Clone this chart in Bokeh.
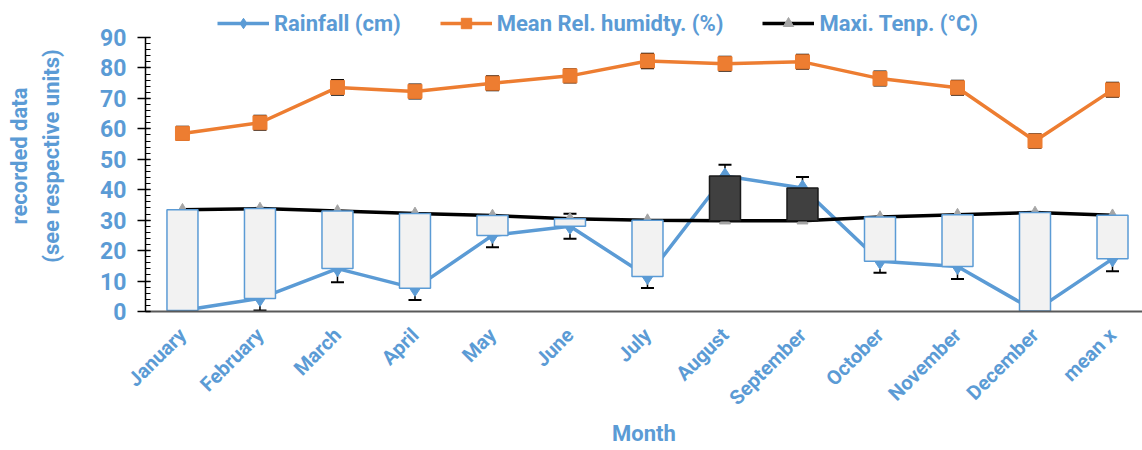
from math import pi
from bokeh.plotting import figure
from bokeh.models import (ColumnDataSource, Range1d, FixedTicker, LinearAxis, Legend,
                          LegendItem, Whisker, TeeHead)
from bokeh.embed import file_html
from bokeh.resources import INLINE

months = ["January", "February", "March", "April", "May", "June", "July", "August",
          "September", "October", "November", "December", "mean x"]
rainfall = [0.3, 4.3, 14.1, 7.6, 25.0, 28.0, 11.5, 44.5, 40.6, 16.5, 14.8, 0.2, 17.3]
rainfall_err = [4.0, 4.0, 4.5, 3.8, 3.9, 4.1, 3.8, 3.7, 3.6, 3.8, 4.1, 4.0, 4.1]
humidity = [58.5, 62.0, 73.6, 72.3, 75.0, 77.4, 82.3, 81.4, 82.0, 76.5, 73.5, 56.0, 72.8]
humidity_err = [2.2, 2.3, 2.4, 2.3, 2.3, 2.2, 2.4, 2.3, 2.3, 2.3, 2.3, 2.2, 2.3]
max_temp = [33.4, 33.8, 33.0, 32.2, 31.5, 30.5, 30.0, 29.8, 29.8, 31.0, 31.8, 32.5, 31.6]
series_names = ["Rainfall (cm)", "Mean Rel. humidty. (%)", "Maxi. Tenp. (°C)"]
y_ticks = list(range(0, 91, 10))

BLUE = "#5b9bd5"
ORANGE = "#ed7d31"
GREY = "#a5a5a5"
FONT = "Roboto"

xs = list(range(len(months)))

src = ColumnDataSource(dict(
    x=xs, rain=rainfall, hum=humidity, temp=max_temp,
    rain_lo=[r - e for r, e in zip(rainfall, rainfall_err)],
    rain_hi=[r + e for r, e in zip(rainfall, rainfall_err)],
    hum_lo=[h - e for h, e in zip(humidity, humidity_err)],
    hum_hi=[h + e for h, e in zip(humidity, humidity_err)],
    bar_lo=[min(r, t) for r, t in zip(rainfall, max_temp)],
    bar_hi=[max(r, t) for r, t in zip(rainfall, max_temp)],
    bar_fill=["#404040" if r > t else "#f2f2f2" for r, t in zip(rainfall, max_temp)],
    bar_line=["#1a1a1a" if r > t else BLUE for r, t in zip(rainfall, max_temp)],
))

# frame spans the full top of the canvas; the axis itself stops at 90,
# the strip above it holds the legend
FRAME_H = 311
AXIS_H = 274
y_top = y_ticks[-1] * FRAME_H / AXIS_H

p = figure(width=1142, height=450, output_backend="svg", toolbar_location=None,
           x_range=Range1d(-0.477, 12.387), y_range=Range1d(0, y_top),
           min_border_left=145, min_border_right=0, min_border_top=0, min_border_bottom=139)
p.outline_line_color = None
p.xgrid.visible = False
p.ygrid.visible = False

for lo, hi in (("rain_lo", "rain_hi"), ("hum_lo", "hum_hi")):
    w = Whisker(base="x", lower=lo, upper=hi, source=src, level="underlay",
                line_color="black", line_width=1.5,
                lower_head=TeeHead(size=13, line_color="black", line_width=2),
                upper_head=TeeHead(size=13, line_color="black", line_width=2))
    p.add_layout(w)

r_line = p.line("x", "rain", source=src, line_color=BLUE, line_width=3.5)
r_mark = p.scatter("x", "rain", source=src, marker="diamond", size=16,
                   fill_color=BLUE, line_color=BLUE)
t_line = p.line("x", "temp", source=src, line_color="black", line_width=3.5)
t_mark = p.scatter("x", "temp", source=src, marker="triangle", size=11,
                   fill_color=GREY, line_color=GREY)
p.vbar(x="x", bottom="bar_lo", top="bar_hi", width=0.4, source=src,
       fill_color="bar_fill", line_color="bar_line", line_width=1.5)
h_line = p.line("x", "hum", source=src, line_color=ORANGE, line_width=3.5)
h_mark = p.scatter("x", "hum", source=src, marker="square", size=14,
                   fill_color=ORANGE, line_color=ORANGE)

# x axis
xa = p.xaxis[0]
xa.ticker = FixedTicker(ticks=xs)
xa.major_label_overrides = {i: m for i, m in enumerate(months)}
xa.major_label_orientation = pi / 4
xa.major_tick_out = 0
xa.major_tick_in = 0
xa.minor_tick_out = 0
xa.minor_tick_in = 0
xa.axis_line_color = "#595959"
xa.axis_line_width = 2
xa.major_label_text_font = FONT
xa.major_label_text_font_style = "bold"
xa.major_label_text_font_size = "20px"
xa.major_label_text_color = BLUE
xa.major_label_standoff = 20
xa.axis_label = "Month"
xa.axis_label_text_font = FONT
xa.axis_label_text_font_style = "bold"
xa.axis_label_text_font_size = "22px"
xa.axis_label_text_color = BLUE
xa.axis_label_standoff = 0

# y axis (limited to 0..90)
ya = p.yaxis[0]
ya.bounds = (y_ticks[0], y_ticks[-1])
ya.ticker = FixedTicker(ticks=y_ticks, minor_ticks=list(range(0, 91, 2)))
ya.major_tick_out = 8
ya.major_tick_in = 5
ya.minor_tick_out = 0
ya.minor_tick_in = 5
ya.axis_line_color = "black"
ya.axis_line_width = 1.5
ya.major_tick_line_color = "black"
ya.major_tick_line_width = 1.5
ya.minor_tick_line_color = "black"
ya.major_label_text_font = FONT
ya.major_label_text_font_style = "bold"
ya.major_label_text_font_size = "23px"
ya.major_label_text_color = BLUE
ya.major_label_standoff = 11
ya.axis_label = "(see respective units)"
ya.axis_label_text_font = FONT
ya.axis_label_text_font_style = "bold"
ya.axis_label_text_font_size = "22px"
ya.axis_label_text_color = BLUE
ya.axis_label_standoff = 33

ya2 = LinearAxis(axis_label="recorded data", ticker=FixedTicker(ticks=[]),
                 bounds=(y_ticks[0], y_ticks[-1]))
ya2.axis_line_color = None
ya2.major_tick_out = 0
ya2.major_tick_in = 0
ya2.minor_tick_out = 0
ya2.minor_tick_in = 0
ya2.major_label_text_font_size = "0px"
ya2.major_label_standoff = 0
ya2.axis_label_text_font = FONT
ya2.axis_label_text_font_style = "bold"
ya2.axis_label_text_font_size = "22px"
ya2.axis_label_text_color = BLUE
ya2.axis_label_standoff = 5
p.add_layout(ya2, "left")

# legend in the strip above the axis top
legend = Legend(items=[
    LegendItem(label=series_names[0], renderers=[r_line, r_mark]),
    LegendItem(label=series_names[1], renderers=[h_line, h_mark]),
    LegendItem(label=series_names[2], renderers=[t_line, t_mark]),
], orientation="horizontal", location=(72, FRAME_H - 36))
legend.label_text_font = FONT
legend.label_text_font_style = "bold"
legend.label_text_font_size = "22px"
legend.label_text_color = BLUE
legend.glyph_width = 52
legend.glyph_height = 26
legend.label_standoff = 5
legend.spacing = 39
legend.padding = 0
legend.margin = 0
legend.border_line_color = None
legend.background_fill_alpha = 0
p.add_layout(legend, "center")

open("out.html", "w").write(file_html(p, INLINE))
